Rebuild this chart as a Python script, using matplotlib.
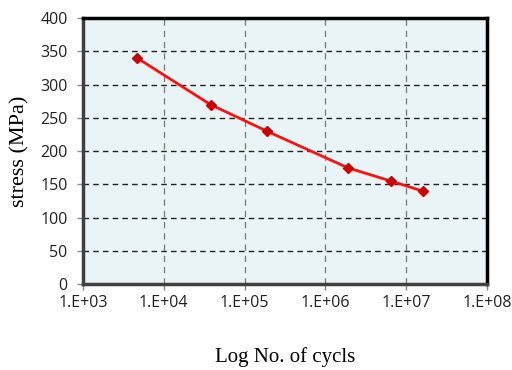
import numpy as np
import matplotlib
matplotlib.use("Agg")
import matplotlib.pyplot as plt
from matplotlib.ticker import FuncFormatter, FixedLocator

# datos
cycles = [4.7e3, 3.8e4, 1.9e5, 1.9e6, 6.5e6, 1.6e7]
stress = [340, 270, 230, 175, 155, 140]
x_ticks = [1e3, 1e4, 1e5, 1e6, 1e7, 1e8]
y_ticks = [0, 50, 100, 150, 200, 250, 300, 350, 400]

fig = plt.figure(figsize=(5.12, 3.7), dpi=100)
ax = fig.add_axes([0.162, 0.232, 0.789, 0.719])
ax.set_facecolor("#e8f4f6")

ax.plot(cycles, stress, color="#ff1010", lw=2, marker="D", ms=5.5,
        mfc="#cc0000", mec="#cc0000", zorder=3)

ax.set_xscale("log")
ax.set_xlim(1e3, 1e8)
ax.set_ylim(0, 400)
ax.xaxis.set_major_locator(FixedLocator(x_ticks))
ax.xaxis.set_minor_locator(FixedLocator([]))
ax.set_yticks(y_ticks)
ax.xaxis.set_major_formatter(FuncFormatter(lambda v, p: "1.E+%02d" % round(np.log10(v))))

ax.grid(axis="y", ls=(0, (4, 3)), color="#222222", lw=1)
ax.grid(axis="x", ls=(0, (5, 4)), color="#777777", lw=0.9)

for s in ["top", "right"]:
    ax.spines[s].set_color("black")
    ax.spines[s].set_linewidth(2.5)
for s in ["left", "bottom"]:
    ax.spines[s].set_color("#404040")
    ax.spines[s].set_linewidth(2.5)

ax.tick_params(length=4, width=1, color="#888888", labelsize=11.5, pad=4)
ax.tick_params(axis="y", pad=7)
for lab in ax.get_xticklabels() + ax.get_yticklabels():
    lab.set_fontfamily("Open Sans")
    lab.set_color("#222222")

ax.set_ylabel("stress (MPa)", fontfamily="Liberation Serif", fontsize=16, labelpad=8)
ax.set_xlabel("Log No. of cycls", fontfamily="Liberation Serif", fontsize=15, labelpad=26)

fig.savefig("out.png", dpi=100)
